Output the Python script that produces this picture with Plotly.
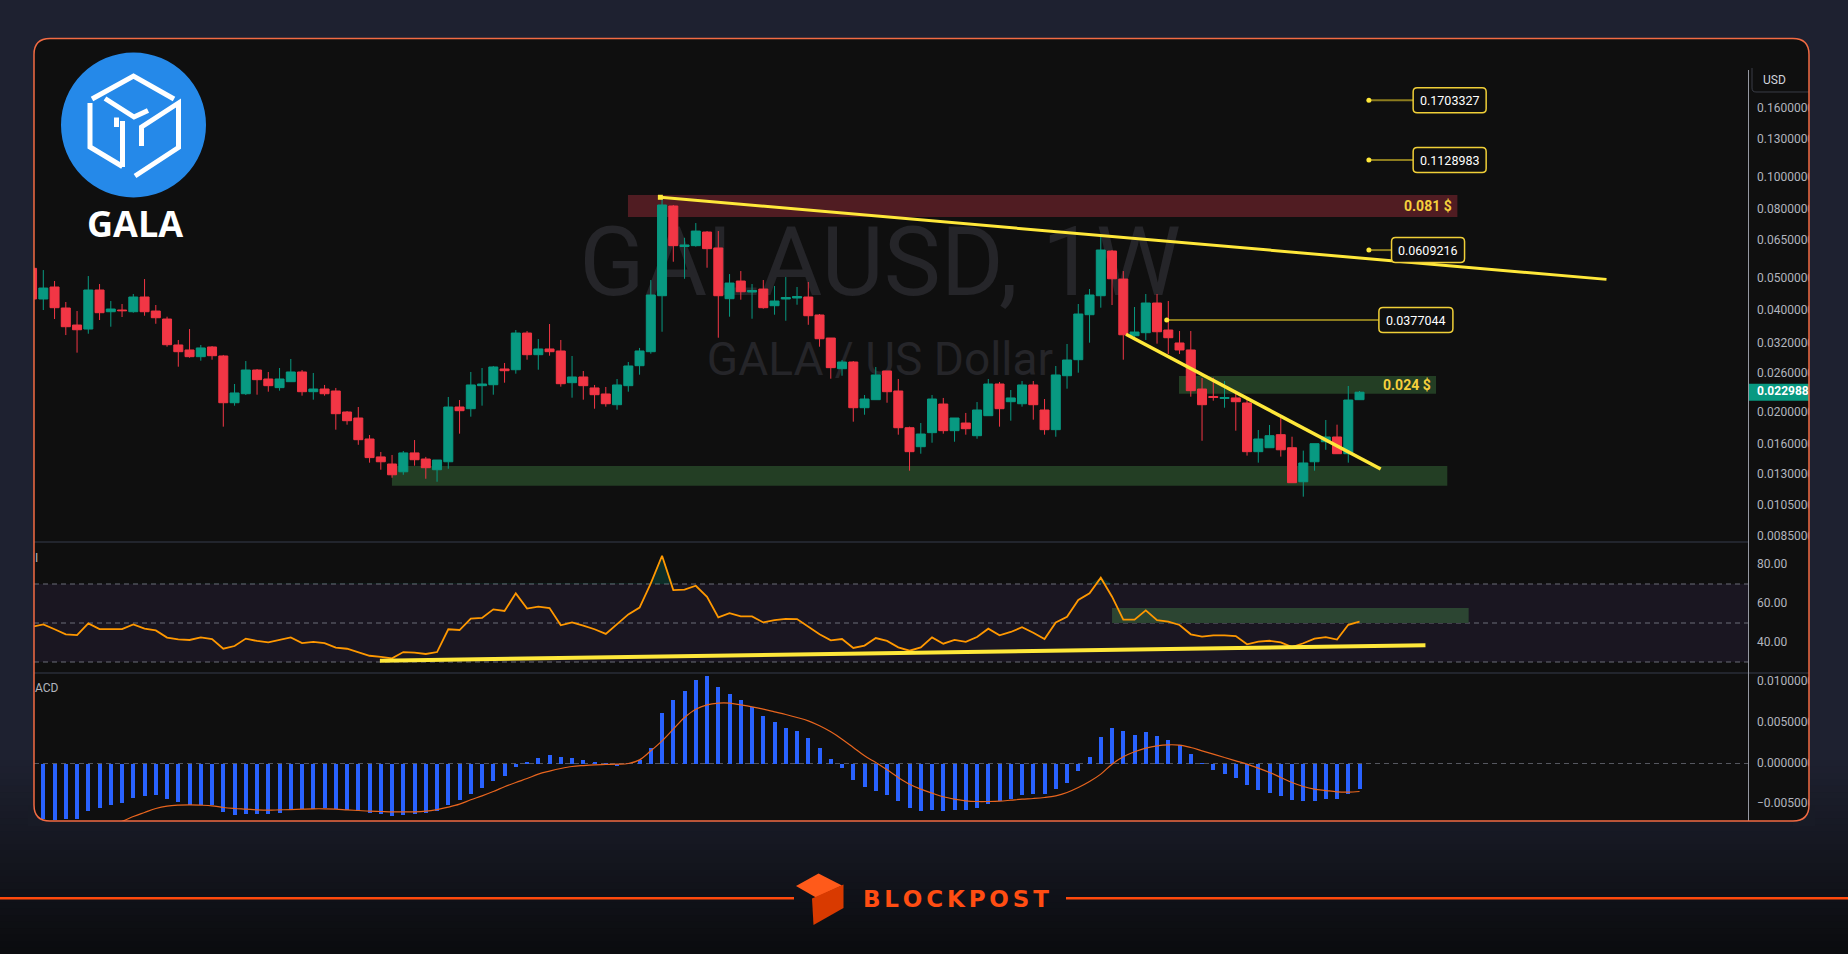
import numpy as np
import plotly.graph_objects as go

W, H = 1848, 954

# ---------------- data : GALA / USD weekly ----------------
opens = [0.05375, 0.04356, 0.04729, 0.04095, 0.03644, 0.03545, 0.04633, 0.03992, 0.04039, 0.03992,
         0.04416, 0.04011, 0.03797, 0.03178, 0.03071, 0.02933, 0.03135, 0.02947, 0.02139, 0.02275,
         0.02677, 0.02517, 0.02372, 0.02471, 0.02641, 0.02307, 0.02350, 0.02318, 0.02007, 0.01926,
         0.01668, 0.01475, 0.01405, 0.01332, 0.01516, 0.01454, 0.01351, 0.01427, 0.02077, 0.02053,
         0.02404, 0.02420, 0.02696, 0.02682, 0.03449, 0.02973, 0.03092, 0.03050, 0.02454, 0.02552,
         0.02367, 0.02271, 0.02110, 0.02404, 0.02757, 0.03035, 0.04455, 0.08242, 0.06244, 0.06279,
         0.06894, 0.06181, 0.04365, 0.04927, 0.04570, 0.04664, 0.04160, 0.04356, 0.04386, 0.04416,
         0.03903, 0.03333, 0.02701, 0.02828, 0.02067, 0.02184, 0.02659, 0.02318, 0.01802, 0.01582,
         0.01742, 0.02120, 0.01766, 0.01861, 0.01706, 0.01957, 0.02432, 0.02154, 0.02124, 0.02416,
         0.02035, 0.01778, 0.02574, 0.02873, 0.03911, 0.04455, 0.06053, 0.04994, 0.03386, 0.03457,
         0.04238, 0.03521, 0.03222, 0.03071, 0.02350, 0.02232, 0.02202, 0.02210, 0.02135, 0.01529,
         0.01571, 0.01718, 0.01571, 0.01244, 0.01427, 0.01637, 0.01691, 0.01508, 0.02184]
highs = [0.05613, 0.05312, 0.04927, 0.04267, 0.04011, 0.05098, 0.04827, 0.04296, 0.04209, 0.04508,
         0.04994, 0.04180, 0.03858, 0.03289, 0.03545, 0.03178, 0.03156, 0.02968, 0.02432, 0.02847,
         0.02695, 0.02641, 0.02714, 0.02887, 0.02677, 0.02623, 0.02416, 0.02367, 0.02021, 0.02077,
         0.01714, 0.01526, 0.01495, 0.01536, 0.01656, 0.01475, 0.01444, 0.02225, 0.02179, 0.02641,
         0.02714, 0.02752, 0.02809, 0.03521, 0.03497, 0.03310, 0.03669, 0.03289, 0.02947, 0.02659,
         0.02416, 0.02383, 0.02517, 0.02828, 0.03114, 0.04961, 0.08785, 0.08299, 0.06630, 0.07332,
         0.06941, 0.06941, 0.05168, 0.05276, 0.04827, 0.04961, 0.04761, 0.05063, 0.04729, 0.04893,
         0.03930, 0.03333, 0.02867, 0.02847, 0.02255, 0.02733, 0.02659, 0.02517, 0.01815, 0.01861,
         0.02255, 0.02210, 0.01926, 0.01994, 0.02149, 0.02517, 0.02466, 0.02334, 0.02483, 0.02483,
         0.02194, 0.02752, 0.03200, 0.04209, 0.04664, 0.06707, 0.06095, 0.05276, 0.04123, 0.04508,
         0.04508, 0.04296, 0.03497, 0.03497, 0.02534, 0.02540, 0.02483, 0.02271, 0.02210, 0.01774,
         0.01836, 0.01944, 0.01694, 0.01540, 0.01615, 0.01900, 0.01840, 0.02399, 0.02318]
lows = [0.04267, 0.04039, 0.03797, 0.03402, 0.03015, 0.03433, 0.03771, 0.03602, 0.03850, 0.03965,
        0.03884, 0.03676, 0.03141, 0.02738, 0.02913, 0.02853, 0.02873, 0.01815, 0.02096, 0.02255,
        0.02260, 0.02307, 0.02323, 0.02471, 0.02245, 0.02184, 0.02245, 0.01778, 0.01840, 0.01603,
        0.01418, 0.01351, 0.01279, 0.01305, 0.01389, 0.01270, 0.01244, 0.01360, 0.01730, 0.01944,
        0.02096, 0.02260, 0.02454, 0.02610, 0.02873, 0.02682, 0.02953, 0.02388, 0.02214, 0.02184,
        0.02053, 0.02082, 0.02039, 0.02307, 0.02592, 0.02994, 0.03480, 0.05624, 0.05004, 0.06236,
        0.05398, 0.03340, 0.03858, 0.04335, 0.03805, 0.04076, 0.03911, 0.03753, 0.04188, 0.03650,
        0.03141, 0.02522, 0.02574, 0.01878, 0.01970, 0.02184, 0.02139, 0.01718, 0.01342, 0.01508,
        0.01626, 0.01730, 0.01637, 0.01718, 0.01671, 0.01957, 0.01815, 0.01891, 0.02082, 0.01904,
        0.01718, 0.01694, 0.02355, 0.02628, 0.03229, 0.04104, 0.04180, 0.02873, 0.03289, 0.03289,
        0.03207, 0.02988, 0.02988, 0.02229, 0.01648, 0.02169, 0.02067, 0.01766, 0.01488, 0.01418,
        0.01571, 0.01478, 0.01236, 0.01123, 0.01342, 0.01549, 0.01508, 0.01418, 0.02184]
closes = [0.04356, 0.04696, 0.04104, 0.03602, 0.03528, 0.04633, 0.03965, 0.04067, 0.04020, 0.04416,
          0.03992, 0.03831, 0.03184, 0.03035, 0.02933, 0.03114, 0.02953, 0.02139, 0.02287, 0.02677,
          0.02505, 0.02404, 0.02517, 0.02641, 0.02307, 0.02350, 0.02275, 0.01984, 0.01891, 0.01660,
          0.01468, 0.01427, 0.01305, 0.01516, 0.01447, 0.01370, 0.01444, 0.02077, 0.02025, 0.02416,
          0.02432, 0.02733, 0.02664, 0.03449, 0.02973, 0.03092, 0.03035, 0.02437, 0.02552, 0.02404,
          0.02260, 0.02124, 0.02416, 0.02752, 0.03050, 0.04477, 0.08299, 0.06279, 0.06309, 0.06941,
          0.06151, 0.04455, 0.04860, 0.04579, 0.04617, 0.04104, 0.04296, 0.04401, 0.04431, 0.03884,
          0.03317, 0.02720, 0.02828, 0.02067, 0.02194, 0.02587, 0.02307, 0.01802, 0.01529, 0.01726,
          0.02194, 0.01766, 0.01926, 0.01790, 0.02035, 0.02432, 0.02053, 0.02210, 0.02416, 0.02110,
          0.01778, 0.02587, 0.02867, 0.03930, 0.04477, 0.06095, 0.05004, 0.03409, 0.03473, 0.04238,
          0.03480, 0.03340, 0.03071, 0.02323, 0.02110, 0.02217, 0.02217, 0.02154, 0.01529, 0.01668,
          0.01706, 0.01549, 0.01236, 0.01415, 0.01615, 0.01691, 0.01508, 0.02179, 0.0229882]
rsi = [48.1, 49.3, 46.8, 44.2, 43.8, 49.8, 46.9, 46.9, 46.9, 49.3,
       47.1, 46.2, 42.5, 41.6, 41.3, 42.6, 41.8, 36.8, 38.2, 42.0,
       40.8, 40.1, 41.3, 42.6, 39.7, 40.3, 39.7, 37.4, 36.8, 35.0,
       33.2, 32.6, 31.9, 35.1, 34.8, 34.1, 35.1, 46.8, 46.4, 52.2,
       52.6, 57.0, 56.2, 65.2, 57.4, 58.4, 57.7, 48.8, 50.3, 48.6,
       46.8, 44.4, 49.3, 54.4, 57.9, 70.3, 84.5, 66.9, 67.1, 69.1,
       63.4, 52.9, 55.0, 53.4, 53.4, 50.3, 51.5, 52.1, 52.0, 47.9,
       44.2, 41.1, 41.8, 37.2, 38.4, 42.3, 40.8, 37.5, 35.8, 37.5,
       42.6, 39.4, 41.3, 40.3, 42.8, 47.1, 43.7, 45.4, 47.8, 45.0,
       41.8, 50.3, 53.2, 61.8, 65.2, 73.2, 63.5, 51.7, 51.7, 56.5,
       51.5, 50.7, 49.0, 44.2, 43.0, 43.7, 43.7, 43.3, 39.1, 40.4,
       40.9, 40.1, 37.7, 39.6, 42.0, 42.8, 41.5, 49.1, 50.7]
macd = [-0.00690, -0.00686, -0.00698, -0.00681, -0.00681, -0.00583, -0.00546, -0.00509, -0.00489, -0.00423,
        -0.00398, -0.00386, -0.00431, -0.00472, -0.00509, -0.00509, -0.00509, -0.00595, -0.00632, -0.00620,
        -0.00620, -0.00620, -0.00608, -0.00571, -0.00558, -0.00558, -0.00546, -0.00558, -0.00571, -0.00583,
        -0.00608, -0.00620, -0.00644, -0.00632, -0.00620, -0.00608, -0.00583, -0.00509, -0.00447, -0.00374,
        -0.00300, -0.00213, -0.00152, -0.00037, 0.00012, 0.00062, 0.00099, 0.00074, 0.00062, 0.00049,
        0.00012, 0.00005, -0.00025, 0.00003, 0.00049, 0.00197, 0.00620, 0.00776, 0.00899, 0.01034,
        0.01076, 0.00936, 0.00862, 0.00776, 0.00690, 0.00591, 0.00505, 0.00443, 0.00398, 0.00312,
        0.00197, 0.00053, -0.00053, -0.00201, -0.00287, -0.00337, -0.00386, -0.00460, -0.00546, -0.00583,
        -0.00571, -0.00583, -0.00571, -0.00571, -0.00546, -0.00497, -0.00460, -0.00435, -0.00386, -0.00374,
        -0.00374, -0.00312, -0.00238, -0.00090, 0.00078, 0.00324, 0.00435, 0.00398, 0.00349, 0.00386,
        0.00337, 0.00287, 0.00226, 0.00115, 0.00002, -0.00078, -0.00127, -0.00177, -0.00263, -0.00324,
        -0.00361, -0.00398, -0.00447, -0.00460, -0.00460, -0.00435, -0.00435, -0.00374, -0.00312]
signal = [-0.00950, -0.00920, -0.00890, -0.00860, -0.00830, -0.00800, -0.00770, -0.00740, -0.00712, -0.00653,
          -0.00603, -0.00554, -0.00525, -0.00513, -0.00509, -0.00513, -0.00521, -0.00542, -0.00554, -0.00562,
          -0.00571, -0.00575, -0.00571, -0.00567, -0.00562, -0.00558, -0.00558, -0.00562, -0.00571, -0.00579,
          -0.00587, -0.00591, -0.00595, -0.00595, -0.00595, -0.00587, -0.00567, -0.00538, -0.00501, -0.00447,
          -0.00398, -0.00345, -0.00287, -0.00234, -0.00185, -0.00131, -0.00094, -0.00062, -0.00037, -0.00025,
          -0.00016, -0.00012, -0.00008, 0.00000, 0.00045, 0.00156, 0.00279, 0.00423, 0.00567, 0.00669,
          0.00722, 0.00743, 0.00743, 0.00722, 0.00698, 0.00669, 0.00636, 0.00603, 0.00567, 0.00525,
          0.00464, 0.00390, 0.00300, 0.00197, 0.00094, 0.00012, -0.00078, -0.00172, -0.00255, -0.00316,
          -0.00365, -0.00410, -0.00439, -0.00460, -0.00468, -0.00468, -0.00464, -0.00452, -0.00439, -0.00431,
          -0.00419, -0.00398, -0.00357, -0.00296, -0.00222, -0.00131, -0.00008, 0.00082, 0.00144, 0.00189,
          0.00218, 0.00230, 0.00226, 0.00197, 0.00156, 0.00115, 0.00074, 0.00033, -0.00008, -0.00057,
          -0.00111, -0.00172, -0.00234, -0.00283, -0.00316, -0.00333, -0.00349, -0.00353, -0.00345]

price_ticks = [0.16, 0.13, 0.10, 0.08, 0.065, 0.05, 0.04, 0.032, 0.026, 0.02, 0.016, 0.013, 0.0105, 0.0085]
rsi_ticks = [80, 60, 40]
macd_ticks = [0.01, 0.005, 0.0, -0.005]
last_price = 0.0229882

# analyst drawings (bar index / price)
resistance_zone = dict(x=(53.97, 127.7), y=(0.0764, 0.0889), label="0.081 $")
mid_zone = dict(x=(102.95, 125.8), y=(0.02275, 0.02569), label="0.024 $")
support_zone = dict(x=(32.99, 126.8), y=(0.01211, 0.01386))
upper_trend = dict(x=[56.85, 140.95], y=[0.0875, 0.04983])
lower_trend = dict(x=[98.24, 120.88], y=[0.03419, 0.01358])
rsi_trend = dict(x=[31.92, 124.86], y=[30.7, 38.6])
rsi_zone = dict(x=(97.0, 128.7), y=(50.0, 57.7))
# level, dot x, box left x, box centre x, box width px
level_labels = [(0.1703327, 119.83, 123.76, 127.01, 73),
                (0.1128983, 119.83, 123.76, 127.01, 73),
                (0.0609216, 119.83, 121.85, 125.09, 73),
                (0.0377044, 101.86, 120.73, 124.01, 74)]

n = len(closes)
idx = list(range(1, n + 1))

# ---------------- geometry ----------------
PL, PR, PANEL_R = 34, 1748, 1809
PANEL_T, MAIN_T, MAIN_B, RSI_B, MACD_B = 38.5, 39, 542, 673, 821
XR = [1.1733, 153.53]
YR_LOG = [-2.08457, -0.58665]
PX_PER_DECADE = (MAIN_B - MAIN_T) / (YR_LOG[1] - YR_LOG[0])


def fx(px):
    return px / W


def fy(py):
    return 1 - py / H


def paper_path(cmds):
    out = []
    for c in cmds:
        if c[0] == 'Z':
            out.append('Z')
            continue
        out.append(c[0] + ' ' + ' '.join(f'{fx(x):.6f},{fy(y):.6f}' for x, y in c[1:]))
    return ' '.join(out)


def pix_path(cmds):
    out = []
    for c in cmds:
        if c[0] == 'Z':
            out.append('Z')
            continue
        out.append(c[0] + ' ' + ' '.join(f'{x:.2f},{y:.2f}' for x, y in c[1:]))
    return ' '.join(out)


def rrect(x0, y0, x1, y1, r):
    return [('M', (x0 + r, y0)), ('L', (x1 - r, y0)), ('Q', (x1, y0), (x1, y0 + r)),
            ('L', (x1, y1 - r)), ('Q', (x1, y1), (x1 - r, y1)), ('L', (x0 + r, y1)),
            ('Q', (x0, y1), (x0, y1 - r)), ('L', (x0, y0 + r)), ('Q', (x0, y0), (x0 + r, y0)), ('Z',)]


def poly(pts, close=False):
    cmds = [('M', pts[0])] + [('L', p) for p in pts[1:]]
    if close:
        cmds.append(('Z',))
    return cmds


C_TOP = np.array([30, 33, 48])
C_BOT = np.array([11, 12, 15])
G0 = 760


def grad(y):
    t = min(max((y - G0) / (H - G0), 0), 1)
    c = C_TOP + (C_BOT - C_TOP) * t
    return f'rgb({int(c[0])},{int(c[1])},{int(c[2])})'


YEL = '#ffe83a'
OLIVE = '#8c7c1e'
GREEN = '#089981'
RED = '#f23645'
AX_TXT = '#b2b5be'

shapes = []
annotations = []

# background gradient
nb = 30
for k in range(nb):
    ya = G0 + (H - G0) * k / nb
    yb = G0 + (H - G0) * (k + 1) / nb + 1
    shapes.append(dict(type='rect', xref='paper', yref='paper', x0=0, x1=1, y0=fy(yb), y1=fy(ya),
                       fillcolor=grad((ya + yb) / 2), line=dict(width=0), layer='below'))

# panel
shapes.append(dict(type='path', xref='paper', yref='paper', path=paper_path(rrect(PL, PANEL_T, PANEL_R, MACD_B, 16)),
                   fillcolor='#0f0f0f', line=dict(width=0), layer='below'))

# watermark
shapes.append(dict(type='rect', xref='paper', yref='paper', x0=fx(560), x1=fx(1200), y0=fy(300), y1=fy(210),
                   fillcolor='rgba(0,0,0,0)', line=dict(width=0), layer='below',
                   label=dict(text='GALAUSD, 1W', textposition='middle center',
                              font=dict(size=96, color='#252529', family='Roboto'))))
shapes.append(dict(type='rect', xref='paper', yref='paper', x0=fx(680), x1=fx(1080), y0=fy(380), y1=fy(332),
                   fillcolor='rgba(0,0,0,0)', line=dict(width=0), layer='below',
                   label=dict(text='GALA / US Dollar', textposition='middle center',
                              font=dict(size=46, color='#252529', family='Roboto'))))

# current price tag (under the label text), 17 px tall on the log scale
tag_half = 10 ** (8.5 / PX_PER_DECADE)
shapes.append(dict(type='rect', xref='x4', yref='y', x0=PR + 1, x1=PANEL_R,
                   y0=last_price / tag_half, y1=last_price * tag_half,
                   fillcolor=GREEN, line=dict(width=0), layer='below'))

# zones on price pane
for z, col in [(resistance_zone, '#501c22'), (mid_zone, '#233e24'), (support_zone, '#233e24')]:
    shapes.append(dict(type='rect', xref='x', yref='y', x0=z['x'][0], x1=z['x'][1], y0=z['y'][0], y1=z['y'][1],
                       fillcolor=col, line=dict(width=0), layer='below'))
for z in [resistance_zone, mid_zone]:
    annotations.append(dict(xref='x', yref='y', x=z['x'][1] - 0.3, y=np.log10(np.sqrt(z['y'][0] * z['y'][1])),
                            text='<b>' + z['label'] + '</b>', showarrow=False, xanchor='right', yanchor='middle',
                            font=dict(size=14, color='#f5d03c', family='Roboto')))

# RSI band, guides, zone
shapes.append(dict(type='rect', xref='paper', yref='y2', x0=fx(PL), x1=fx(PR), y0=30, y1=70,
                   fillcolor='rgba(126,87,194,0.10)', line=dict(width=0), layer='below'))
shapes.append(dict(type='rect', xref='x2', yref='y2', x0=rsi_zone['x'][0], x1=rsi_zone['x'][1],
                   y0=rsi_zone['y'][0], y1=rsi_zone['y'][1], fillcolor='#2c4532', line=dict(width=0), layer='below'))
for lv in [70, 50, 30]:
    shapes.append(dict(type='line', xref='paper', yref='y2', x0=fx(PL), x1=fx(PR), y0=lv, y1=lv,
                       line=dict(color='#6a6d78', width=1, dash='5px,4px'), layer='below'))
shapes.append(dict(type='line', xref='paper', yref='y3', x0=fx(PL), x1=fx(PR), y0=0, y1=0,
                   line=dict(color='#55575f', width=1, dash='5px,4px'), layer='below'))

# pane separators and price-axis line
shapes.append(dict(type='line', xref='paper', yref='paper', x0=fx(PL), x1=fx(PR), y0=fy(MAIN_B), y1=fy(MAIN_B),
                   line=dict(color='#2a2e39', width=1.5), layer='above'))
shapes.append(dict(type='line', xref='paper', yref='paper', x0=fx(PL), x1=fx(PANEL_R), y0=fy(RSI_B), y1=fy(RSI_B),
                   line=dict(color='#2a2e39', width=1.5), layer='above'))
shapes.append(dict(type='line', xref='paper', yref='paper', x0=fx(PR + 0.5), x1=fx(PR + 0.5), y0=fy(70), y1=fy(MACD_B),
                   line=dict(color='#9598a1', width=1), layer='above'))
shapes.append(dict(type='path', xref='paper', yref='paper',
                   path=paper_path([('M', (1752, 68)), ('L', (1752, 88)), ('Q', (1752, 92), (1756, 92)), ('L', (1809, 92))]),
                   line=dict(color='#3a3d47', width=1), layer='above'))

# level label boxes
for lvl, xd, xl, xc, wbox in level_labels:
    hw, hh = wbox / 2, 12.5
    shapes.append(dict(type='path', xref='x', yref='y', xsizemode='pixel', ysizemode='pixel',
                       xanchor=xc, yanchor=lvl, path=pix_path(rrect(-hw, -hh, hw, hh, 4)),
                       fillcolor='#0f0f0f', line=dict(color='#f0cf38', width=1.5), layer='above'))
    annotations.append(dict(xref='x', yref='y', x=xc, y=np.log10(lvl), text=f'{lvl:.7f}', showarrow=False,
                            xanchor='center', yanchor='middle', font=dict(size=12.5, color='#ffffff', family='Roboto')))

# logo
shapes.append(dict(type='circle', xref='paper', yref='paper', x0=fx(61), x1=fx(206), y0=fy(197.5), y1=fy(52.5),
                   fillcolor='#2589e9', line=dict(width=0), layer='above'))
cube = [
    [(92, 99), (133.5, 76), (174, 99)],
    [(105, 98.5), (134, 117), (148, 110.5)],
    [(90, 103), (90, 147), (122.5, 166.5)],
    [(122.5, 121), (122.5, 167)],
    [(116.5, 117.5), (116.5, 127)],
    [(135, 176), (178.5, 147.5), (178.5, 103), (141.5, 127), (141.5, 146)],
]
for pts in cube:
    shapes.append(dict(type='path', xref='paper', yref='paper', path=paper_path(poly(pts)),
                       line=dict(color='#ffffff', width=5), layer='above'))
annotations.append(dict(xref='paper', yref='paper', x=fx(135), y=fy(223), text='<b>GALA</b>', showarrow=False,
                        xanchor='center', yanchor='middle', font=dict(size=36, color='#ffffff', family='Open Sans')))

# panel border + corner masks
shapes.append(dict(type='path', xref='paper', yref='paper',
                   path=paper_path([('M', (28, 805)), ('L', (PL, 805)), ('Q', (PL, MACD_B), (PL + 16, MACD_B)),
                                    ('L', (PL + 16, 826)), ('L', (28, 826)), ('Z',)]),
                   fillcolor=grad(815), line=dict(width=0), layer='above'))
shapes.append(dict(type='path', xref='paper', yref='paper',
                   path=paper_path([('M', (1815, 805)), ('L', (PANEL_R, 805)), ('Q', (PANEL_R, MACD_B), (PANEL_R - 16, MACD_B)),
                                    ('L', (PANEL_R - 16, 826)), ('L', (1815, 826)), ('Z',)]),
                   fillcolor=grad(815), line=dict(width=0), layer='above'))
shapes.append(dict(type='path', xref='paper', yref='paper', path=paper_path(rrect(PL, PANEL_T, PANEL_R, MACD_B, 16)),
                   fillcolor='rgba(0,0,0,0)', line=dict(color='#f26b43', width=1.5), layer='above'))

# footer
shapes.append(dict(type='line', xref='paper', yref='paper', x0=0, x1=fx(794), y0=fy(898.3), y1=fy(898.3),
                   line=dict(color='#ff4a0d', width=2.5), layer='above'))
shapes.append(dict(type='line', xref='paper', yref='paper', x0=fx(1066), x1=1, y0=fy(898.3), y1=fy(898.3),
                   line=dict(color='#ff4a0d', width=2.5), layer='above'))
shapes.append(dict(type='path', xref='paper', yref='paper',
                   path=paper_path(poly([(796, 886), (818.5, 873.5), (842, 885.5), (816, 897.5)], True)),
                   fillcolor='#ff5a1a', line=dict(width=0), layer='above'))
shapes.append(dict(type='path', xref='paper', yref='paper',
                   path=paper_path(poly([(812, 898.5), (843.5, 884.5), (843.5, 908), (813.5, 925)], True)),
                   fillcolor='#d93a00', line=dict(width=0), layer='above'))
sp = '\u2006'
annotations.append(dict(xref='paper', yref='paper', x=fx(955.5), y=fy(898.5), text='<b>' + sp.join('BLOCKPOST') + '</b>',
                        showarrow=False, xanchor='center', yanchor='middle',
                        font=dict(size=23, color='#ff4d12', family='DejaVu Sans')))

# pane titles (cut by the panel edge) and axis header
annotations.append(dict(xref='paper', yref='paper', x=fx(33), y=fy(557.5), text='I', showarrow=False,
                        xanchor='left', yanchor='middle', font=dict(size=12, color=AX_TXT, family='Roboto')))
annotations.append(dict(xref='paper', yref='paper', x=fx(33), y=fy(688), text='ACD', showarrow=False,
                        xanchor='left', yanchor='middle', font=dict(size=12, color=AX_TXT, family='Roboto')))
annotations.append(dict(xref='paper', yref='paper', x=fx(1761), y=fy(80), text='USD', showarrow=False,
                        xanchor='left', yanchor='middle', font=dict(size=12, color='#d1d4dc', family='Roboto')))

# ---------------- traces ----------------
fig = go.Figure()

fig.add_trace(go.Candlestick(
    x=idx, open=opens, high=highs, low=lows, close=closes, xaxis='x', yaxis='y',
    increasing=dict(line=dict(color=GREEN, width=1), fillcolor=GREEN),
    decreasing=dict(line=dict(color=RED, width=1), fillcolor=RED),
    whiskerwidth=0, hoverinfo='skip'))

fig.add_trace(go.Scatter(x=upper_trend['x'], y=upper_trend['y'], mode='lines', xaxis='x', yaxis='y',
                         line=dict(color=YEL, width=3), hoverinfo='skip'))
fig.add_trace(go.Scatter(x=upper_trend['x'][:1], y=upper_trend['y'][:1], mode='markers', xaxis='x', yaxis='y',
                         marker=dict(color=YEL, size=5, symbol='square'), hoverinfo='skip'))
fig.add_trace(go.Scatter(x=lower_trend['x'], y=lower_trend['y'], mode='lines', xaxis='x', yaxis='y',
                         line=dict(color=YEL, width=3.5), hoverinfo='skip'))

for lvl, xd, xl, xc, wbox in level_labels:
    fig.add_trace(go.Scatter(x=[xd, xl], y=[lvl, lvl], mode='lines', xaxis='x', yaxis='y',
                             line=dict(color=OLIVE, width=2), hoverinfo='skip'))
    fig.add_trace(go.Scatter(x=[xd], y=[lvl], mode='markers', xaxis='x', yaxis='y',
                             marker=dict(color='#ffe83a', size=5), hoverinfo='skip'))

# RSI pane
fig.add_trace(go.Scatter(x=idx, y=[70] * n, mode='lines', xaxis='x2', yaxis='y2',
                         line=dict(width=0, color='rgba(0,0,0,0)'), hoverinfo='skip'))
fig.add_trace(go.Scatter(x=idx, y=list(np.maximum(rsi, 70)), mode='lines', xaxis='x2', yaxis='y2', fill='tonexty',
                         fillcolor='rgba(8,153,129,0.22)', line=dict(width=0, color='rgba(0,0,0,0)'), hoverinfo='skip'))
fig.add_trace(go.Scatter(x=idx, y=rsi, mode='lines', xaxis='x2', yaxis='y2',
                         line=dict(color='#ff9800', width=1.8), hoverinfo='skip'))
fig.add_trace(go.Scatter(x=rsi_trend['x'], y=rsi_trend['y'], mode='lines', xaxis='x2', yaxis='y2',
                         line=dict(color=YEL, width=4), hoverinfo='skip'))

# MACD pane
fig.add_trace(go.Bar(x=idx, y=macd, width=0.36, marker=dict(color='#2962ff', line=dict(width=0)),
                     xaxis='x3', yaxis='y3', hoverinfo='skip'))
fig.add_trace(go.Scatter(x=idx, y=signal, mode='lines', xaxis='x3', yaxis='y3',
                         line=dict(color='#e8651e', width=1.2, shape='spline'), hoverinfo='skip'))

# price-scale labels (clipped at the panel edge like the screenshot)
lab_font = dict(size=12, color=AX_TXT, family='Roboto')
fig.add_trace(go.Scatter(x=[1757] * len(price_ticks), y=price_ticks, mode='text', xaxis='x4', yaxis='y',
                         text=[f'{v:.7f}' for v in price_ticks], textposition='middle right',
                         textfont=lab_font, cliponaxis=True, hoverinfo='skip'))
fig.add_trace(go.Scatter(x=[1757], y=[last_price], mode='text', xaxis='x4', yaxis='y',
                         text=[f'<b>{last_price:.7f}</b>'], textposition='middle right',
                         textfont=dict(size=12, color='#ffffff', family='Roboto'), cliponaxis=True, hoverinfo='skip'))
fig.add_trace(go.Scatter(x=[1757] * len(rsi_ticks), y=rsi_ticks, mode='text', xaxis='x4', yaxis='y2',
                         text=[f'{v:.2f}' for v in rsi_ticks], textposition='middle right',
                         textfont=lab_font, cliponaxis=True, hoverinfo='skip'))
fig.add_trace(go.Scatter(x=[1757] * len(macd_ticks), y=macd_ticks, mode='text', xaxis='x4', yaxis='y3',
                         text=[f'{v:.7f}'.replace('-', '\u2212') for v in macd_ticks], textposition='middle right',
                         textfont=lab_font, cliponaxis=True, hoverinfo='skip'))

off = dict(visible=False, showgrid=False, zeroline=False, fixedrange=True)
fig.update_layout(
    width=W, height=H, margin=dict(l=0, r=0, t=0, b=0, pad=0),
    paper_bgcolor='#1e2130', plot_bgcolor='rgba(0,0,0,0)', showlegend=False,
    boxgap=0.2, boxgroupgap=0, bargap=0,
    xaxis=dict(domain=[fx(PL), fx(PR)], range=XR, anchor='y', rangeslider=dict(visible=False), **off),
    yaxis=dict(domain=[fy(MAIN_B), fy(MAIN_T)], type='log', range=YR_LOG, anchor='x', **off),
    xaxis2=dict(domain=[fx(PL), fx(PR)], range=XR, anchor='y2', **off),
    yaxis2=dict(domain=[fy(RSI_B), fy(MAIN_B)], range=[24.36, 91.54], anchor='x2', **off),
    xaxis3=dict(domain=[fx(PL), fx(PR)], range=XR, anchor='y3', **off),
    yaxis3=dict(domain=[fy(MACD_B), fy(RSI_B)], range=[-0.007081, 0.011145], anchor='x3', **off),
    xaxis4=dict(domain=[fx(PR + 1), fx(PANEL_R)], range=[PR + 1, PANEL_R], anchor='y', **off),
    shapes=shapes, annotations=annotations,
)

fig.write_html('out.html')
